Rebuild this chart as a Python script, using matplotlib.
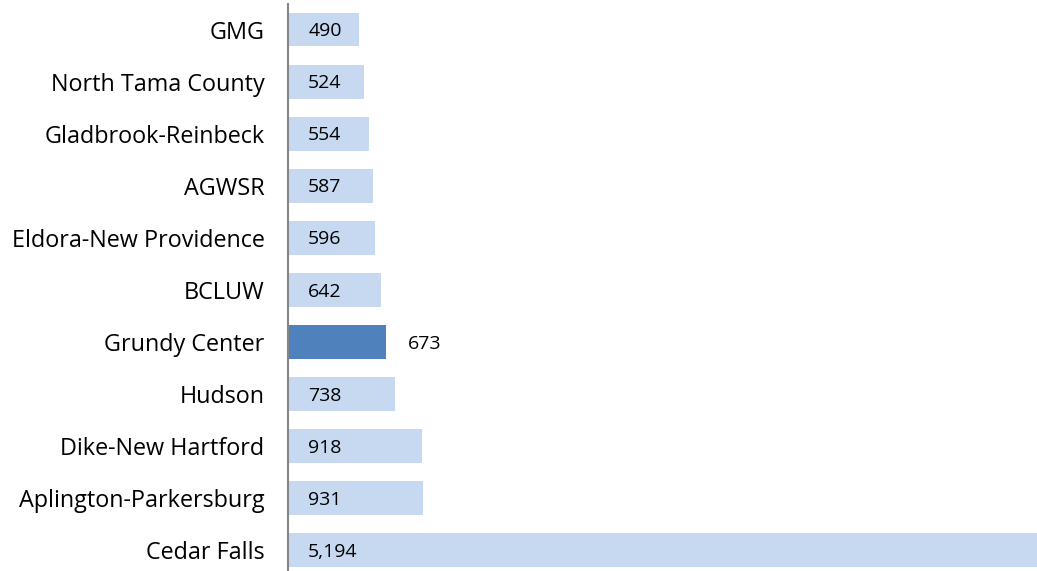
import matplotlib.pyplot as plt

schools = ['GMG', 'North Tama County', 'Gladbrook-Reinbeck', 'AGWSR',
           'Eldora-New Providence', 'BCLUW', 'Grundy Center', 'Hudson',
           'Dike-New Hartford', 'Aplington-Parkersburg', 'Cedar Falls']
enrollment = [490, 524, 554, 587, 596, 642, 673, 738, 918, 931, 5194]
highlight = 'Grundy Center'

plt.rcParams['font.family'] = ['Open Sans', 'DejaVu Sans']

fig = plt.figure(figsize=(10.37, 5.71), dpi=100)
ax = fig.add_axes([288 / 1037, 0, 1 - 288 / 1037, 567 / 571])

pos = list(range(len(schools)))
colors = ['#4F81BD' if s == highlight else '#C6D9F1' for s in schools]
ax.barh(pos, enrollment, height=0.65, color=colors, left=0)

for y, s, v in zip(pos, schools, enrollment):
    if s == highlight:
        ax.annotate(f'{v:,}', (v, y), xytext=(16, -1.2), textcoords='offset points',
                    va='center', ha='left', fontsize=14)
    else:
        ax.annotate(f'{v:,}', (0, y), xytext=(14.5, -1.2), textcoords='offset points',
                    va='center', ha='left', fontsize=14)

# longest bar runs slightly past the right edge, as in the original
ax.set_xlim(0, 5150)
ax.set_ylim(10.40, -0.49)
ax.set_yticks(pos)
ax.set_yticklabels(schools, fontsize=16.8)
ax.tick_params(axis='y', length=0, pad=17)
ax.set_xticks([])
for side in ['top', 'right', 'bottom']:
    ax.spines[side].set_visible(False)
ax.spines['left'].set_color('#868686')
ax.spines['left'].set_linewidth(1.5)

fig.savefig('out.png', dpi=100)
